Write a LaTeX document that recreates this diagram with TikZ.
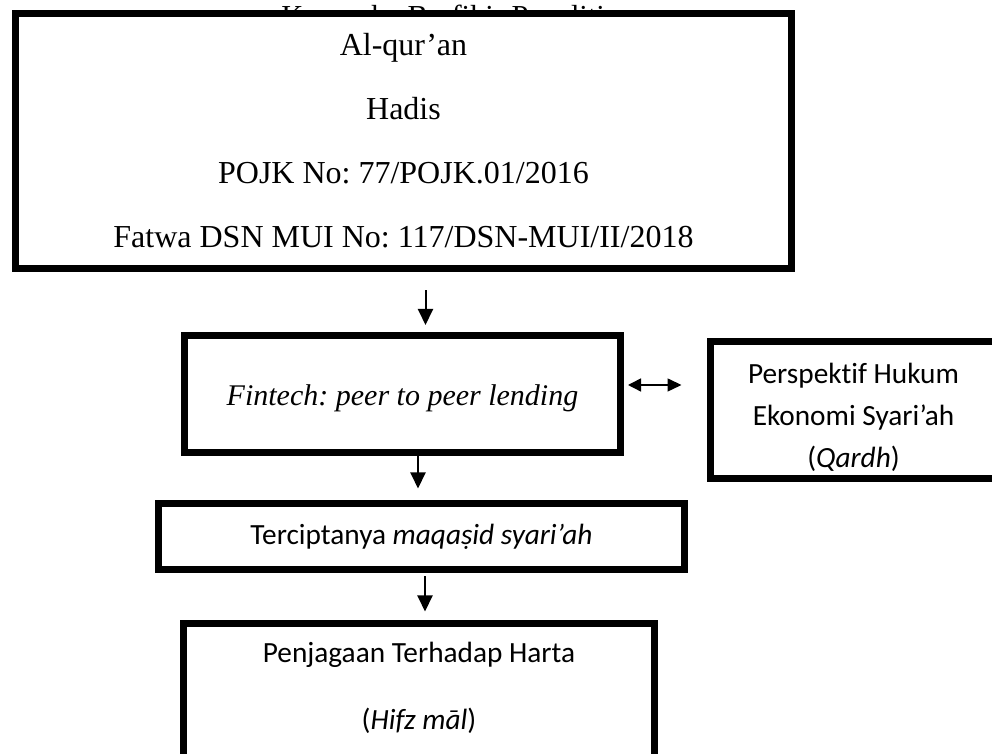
\documentclass[tikz,border=0pt]{standalone}
\usepackage{fontspec}
\setmainfont{Liberation Serif}
\newfontfamily\calibri[Ligatures=NoCommon]{Carlito}
\usetikzlibrary{arrows.meta}
\frenchspacing

\tikzset{
  box/.style={draw=black,line width=7pt,fill=white,inner sep=0pt,align=center},
  arr/.style={line width=2pt,-{Triangle[length=16pt,width=15pt]}},
  twoarr/.style={line width=1.5pt,{Triangle[length=13pt,width=13pt]}-{Triangle[length=14pt,width=13pt]}},
}

\begin{document}
\begin{tikzpicture}[x=1pt,y=1pt]
\useasboundingbox (0,0) rectangle (992,754);
\clip (0,0) rectangle (992,754);
% title, mostly hidden under the first box:
\node (title) at (457.5,727) [anchor=base,font=\fontsize{30.5}{36}\selectfont] {Kerangka Berfikir Penelitian};
% boxes:
\node (dasar) at (403.5,613) [box,minimum width=776pt,minimum height=255pt,font=\fontsize{32}{64}\selectfont] {Al-qur’an\\Hadis\\POJK No: 77/POJK.01/2016\\Fatwa DSN MUI No: 117/DSN-MUI/II/2018};
\node (fintech) at (402.5,360) [box,minimum width=436pt,minimum height=117pt,font=\fontsize{30}{36}\selectfont\itshape,text height=30pt,text depth=6.5pt] {Fintech: peer to peer lending};
\node (hukum) at (853.5,344) [box,minimum width=286pt,minimum height=137pt,font=\calibri\fontsize{29.3}{42}\selectfont,text height=120pt] {Perspektif Hukum\\Ekonomi Syari’ah\\(\textit{Qardh})};
\node (maqasid) at (421.5,217.5) [box,minimum width=526pt,minimum height=66pt,font=\calibri\fontsize{29.3}{35}\selectfont] {Terciptanya \textit{maqaṣid syari’ah}};
\node (harta) at (419,49) [box,minimum width=471pt,minimum height=163pt,font=\calibri\fontsize{29.3}{67}\selectfont,text depth=39pt] {Penjagaan Terhadap Harta\\(\textit{Hifz māl})};
% arrows:
\draw[arr,shorten <=18.5pt,shorten >=7pt] ([xshift=22pt]dasar.south) -- ([xshift=23pt]fintech.north);
\draw[arr,shorten >=11.5pt] ([xshift=15.5pt]fintech.south) -- ([xshift=-3.5pt]maqasid.north);
\draw[arr,shorten <=3.5pt,shorten >=8.5pt] ([xshift=3.5pt]maqasid.south) -- ([xshift=6pt]harta.north);
\draw[twoarr,shorten <=4pt,shorten >=25.5pt] ([yshift=9pt]fintech.east) -- ([yshift=9pt]fintech.east -| hukum.west);
\end{tikzpicture}
\end{document}
